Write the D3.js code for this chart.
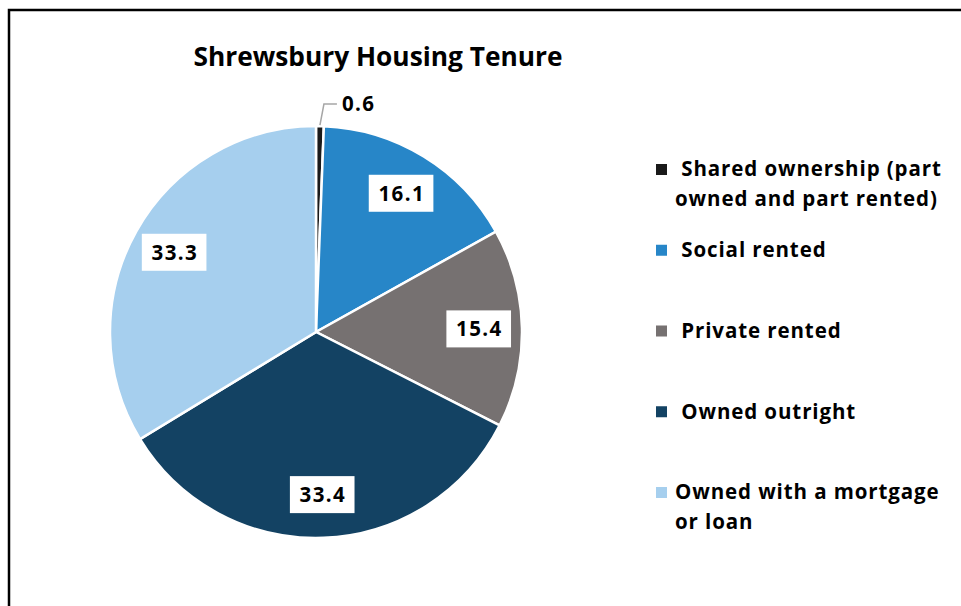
<!DOCTYPE html>
<html lang="en">
<head>
<meta charset="UTF-8">
<title>Shrewsbury Housing Tenure</title>
<style>
body { margin: 0; background: #fff; }
text { font-family: "Open Sans", Lato, sans-serif; font-weight: 700; fill: #000; }
.frame { fill: none; stroke: #000; stroke-width: 2.5px; }
.slice { stroke: #fff; stroke-width: 2.5px; }
.leader { fill: none; stroke: #a6a6a6; stroke-width: 1.5px; }
</style>
</head>
<body>
<script src="https://d3js.org/d3.v7.min.js"></script>
<script>
// chart data
var categories = ["Shared ownership (part owned and part rented)", "Social rented", "Private rented", "Owned outright", "Owned with a mortgage or loan"];
var values = [0.6, 16.1, 15.4, 33.4, 33.3];
var colours = ["#1a1a1a", "#2786c8", "#767171", "#134263", "#a6cfee"];
// legend text, split as in the picture
var legendLines = [[" Shared ownership (part", "owned and part rented)"], [" Social rented"], [" Private rented"], [" Owned outright"], ["Owned with a mortgage", "or loan"]];

var width = 961, height = 606;
var cx = 316, cy = 332, radius = 206;

var svg = d3.select("body").append("svg")
    .attr("width", width)
    .attr("height", height);

svg.append("rect")
    .attr("class", "frame")
    .attr("x", 9).attr("y", 10)
    .attr("width", width).attr("height", height);

svg.append("text")
    .attr("x", 378).attr("y", 66)
    .attr("text-anchor", "middle")
    .style("font-size", "26.3px")
    .text("Shrewsbury Housing Tenure");

var data = categories.map(function(c, i) { return {name: c, value: values[i], colour: colours[i]}; });

var pie = d3.pie().sort(null).value(function(d) { return d.value; });
var arc = d3.arc().innerRadius(0).outerRadius(radius);
var labelArc = d3.arc().innerRadius(radius * 0.79).outerRadius(radius * 0.79);

var g = svg.append("g").attr("transform", "translate(" + cx + "," + cy + ")");
var arcs = pie(data);

g.selectAll(".slice")
    .data(arcs)
  .enter().append("path")
    .attr("class", "slice")
    .attr("fill", function(d) { return d.data.colour; })
    .attr("d", arc);

// boxed labels inside the slices
var inside = arcs.filter(function(d) { return d.data.value > 5; });
var lab = g.selectAll(".lab")
    .data(inside)
  .enter().append("g")
    .attr("class", "lab")
    .attr("transform", function(d) { return "translate(" + labelArc.centroid(d) + ")"; });

lab.append("rect").attr("fill", "#fff");
lab.append("text")
    .attr("text-anchor", "middle")
    .attr("dy", "0.36em")
    .attr("dx", "0.7")
    .style("font-size", "20.5px")
    .style("letter-spacing", "1.4px")
    .text(function(d) { return d3.format(".1f")(d.data.value); });
lab.each(function() {
  var b = d3.select(this).select("text").node().getBBox();
  d3.select(this).select("rect")
      .attr("x", -b.width / 2 - 9).attr("y", -18.5)
      .attr("width", b.width + 18).attr("height", 37);
});

// small slice: leader line and outside label
var small = arcs.filter(function(d) { return d.data.value <= 5; });
small.forEach(function(d) {
  var a = (d.startAngle + d.endAngle) / 2;
  var p0 = [Math.sin(a) * (radius + 1), -Math.cos(a) * (radius + 1)];
  var p1 = [Math.sin(a) * radius + 4, -radius - 22];
  var p2 = [p1[0] + 13, p1[1]];
  g.append("path").attr("class", "leader").attr("d", d3.line()([p0, p1, p2]));
  g.append("text")
      .attr("x", p2[0] + 5).attr("y", p2[1])
      .attr("dy", "0.36em")
      .style("font-size", "20.5px")
      .style("letter-spacing", "1.4px")
      .text(d3.format(".1f")(d.data.value));
});

// legend
var rowY = d3.scalePoint().domain(d3.range(categories.length)).range([169, 492]);
var leg = svg.selectAll(".leg")
    .data(data)
  .enter().append("g")
    .attr("class", "leg")
    .attr("transform", function(d, i) { return "translate(656," + rowY(i) + ")"; });

leg.append("rect")
    .attr("x", 0).attr("y", -5)
    .attr("width", 11).attr("height", 11)
    .attr("fill", function(d) { return d.colour; });

leg.append("text")
    .style("font-size", "20.5px")
    .style("letter-spacing", "0.9px")
    .attr("xml:space", "preserve")
    .style("white-space", "pre")
    .each(function(d, i) {
      var t = d3.select(this);
      legendLines[i].forEach(function(line, j) {
        t.append("tspan")
            .attr("x", 19)
            .attr("y", j * 30)
            .attr("dy", "0.36em")
            .text(line);
      });
    });
</script>
</body>
</html>
